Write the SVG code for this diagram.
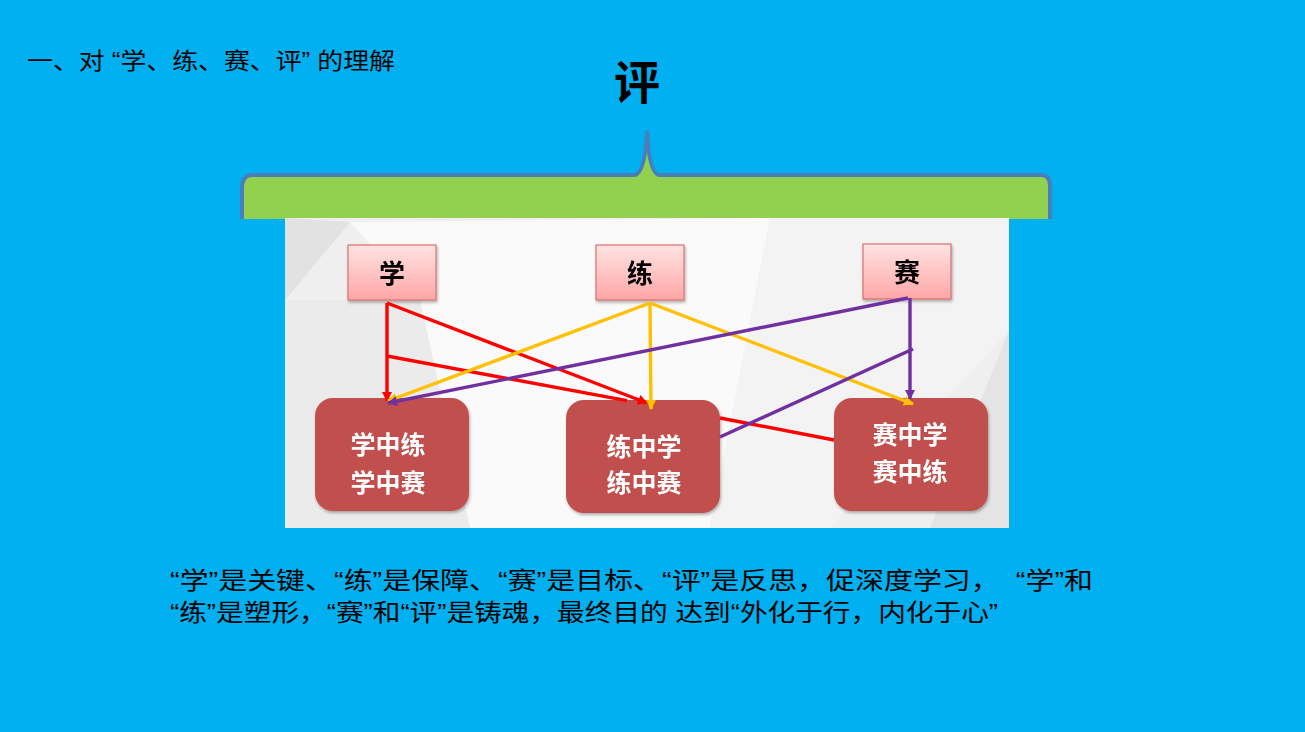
<svg xmlns="http://www.w3.org/2000/svg" width="1305" height="732" viewBox="0 0 1305 732">
<defs>
<style>
.cjk{font-family:"Liberation Sans","Noto Sans CJK SC",sans-serif;}
.title{font-size:23px;fill:#000;}
.body{font-size:24px;fill:#000;}
.top{font-size:26px;font-weight:bold;fill:#000;text-anchor:middle;}
.bot{font-size:25px;font-weight:bold;fill:#fff;text-anchor:middle;}
.pink{fill:url(#pinkGrad);stroke:#D9716F;stroke-width:1.2;}
.red-box{fill:#C0504D;}
.ln{fill:none;stroke-width:3.4;}
.r{stroke:#FF0000;}
.y{stroke:#FFC000;}
.p{stroke:#7030A0;}
</style>
<linearGradient id="pinkGrad" x1="0" y1="0" x2="0" y2="1">
<stop offset="0" stop-color="#FFE3E3"/>
<stop offset="1" stop-color="#FFA6A6"/>
</linearGradient>
<filter id="sh" x="-10%" y="-10%" width="130%" height="140%">
<feDropShadow dx="1" dy="2" stdDeviation="1.5" flood-color="#000" flood-opacity="0.3"/>
</filter>
<marker id="ar" viewBox="0 0 10 10" refX="9" refY="5" markerWidth="12" markerHeight="10" markerUnits="userSpaceOnUse" orient="auto"><path d="M0,0 L10,5 L0,10 z" fill="#FF0000"/></marker>
<marker id="ay" viewBox="0 0 10 10" refX="9" refY="5" markerWidth="12" markerHeight="10" markerUnits="userSpaceOnUse" orient="auto"><path d="M0,0 L10,5 L0,10 z" fill="#FFC000"/></marker>
<marker id="ap" viewBox="0 0 10 10" refX="9" refY="5" markerWidth="12" markerHeight="10" markerUnits="userSpaceOnUse" orient="auto"><path d="M0,0 L10,5 L0,10 z" fill="#7030A0"/></marker>
</defs>

<rect x="0" y="0" width="1305" height="732" fill="#00B0F0"/>

<text class="cjk title" x="27" y="69" textLength="368" lengthAdjust="spacingAndGlyphs" xml:space="preserve">一、对 “学、练、赛、评” 的理解</text>

<g id="brace">
<text class="cjk" x="637" y="99" font-size="46" font-weight="bold" text-anchor="middle" fill="#000">评</text>
<path d="M242,219 L242,186 Q243,175 252,175 L635,175 Q645,173 647,131 Q649,173 659,175 L1041,175 Q1050,175 1050,186 L1050,219 Z" fill="#92D050"/>
<path d="M242,219 L242,186 Q243,175 252,175 L635,175 Q645,173 647,131 Q649,173 659,175 L1041,175 Q1050,175 1050,186 L1050,219" fill="none" stroke="#4A7EBB" stroke-width="4"/>
</g>

<g id="panel">
<rect x="285" y="218" width="724" height="310" fill="#EFEFEF"/>
<polygon points="285,218 350,222 285,300" fill="#E2E2E2"/>
<polygon points="350,222 770,218 710,528 470,528 420,300" fill="#FAFAFA"/>
<polygon points="770,218 1009,218 1009,330 830,528 710,528" fill="#F3F3F3"/>
<polygon points="1009,330 1009,528 930,528" fill="#E4E4E4"/>
<polygon points="285,300 420,300 470,528 285,528" fill="#EBEBEB"/>
</g>

<g id="n-xue" filter="url(#sh)">
<rect class="pink" x="348" y="245" width="88" height="55"/>
<text class="cjk top" x="392" y="283">学</text>
</g>
<g id="n-lian" filter="url(#sh)">
<rect class="pink" x="596" y="245" width="88" height="55"/>
<text class="cjk top" x="640" y="283">练</text>
</g>
<g id="n-sai" filter="url(#sh)">
<rect class="pink" x="863" y="244" width="88" height="55"/>
<text class="cjk top" x="907" y="282">赛</text>
</g>

<g id="b-xue" filter="url(#sh)">
<rect class="red-box" x="315" y="398" width="154" height="113" rx="18"/>
<text class="cjk bot" x="388" y="454">学中练</text>
<text class="cjk bot" x="388" y="492">学中赛</text>
</g>
<g id="b-lian" filter="url(#sh)">
<rect class="red-box" x="566" y="400" width="154" height="113" rx="18"/>
<text class="cjk bot" x="644" y="456">练中学</text>
<text class="cjk bot" x="644" y="492">练中赛</text>
</g>
<g id="b-sai" filter="url(#sh)">
<rect class="red-box" x="834" y="398" width="154" height="113" rx="18"/>
<text class="cjk bot" x="910" y="444">赛中学</text>
<text class="cjk bot" x="910" y="481">赛中练</text>
</g>

<g id="connectors">
<line class="ln r" x1="387" y1="303" x2="387" y2="401" marker-end="url(#ar)"/>
<line class="ln r" x1="387" y1="303" x2="647" y2="403" marker-end="url(#ar)"/>
<line class="ln r" x1="387" y1="356" x2="627" y2="400.7"/>
<line class="ln r" x1="720" y1="418" x2="834" y2="440"/>
<line class="ln y" x1="650" y1="303" x2="388" y2="401" marker-end="url(#ay)"/>
<line class="ln y" x1="650" y1="303" x2="651" y2="409" marker-end="url(#ay)"/>
<line class="ln y" x1="650" y1="303" x2="913" y2="404" marker-end="url(#ay)"/>
<line class="ln p" x1="908" y1="298" x2="388" y2="403" marker-end="url(#ap)"/>
<line class="ln p" x1="910" y1="298" x2="910" y2="399" stroke-width="2.4" marker-end="url(#ap)"/>
<line class="ln p" x1="913" y1="349" x2="720" y2="437"/>
</g>

<g id="caption">
<text class="cjk body" x="170" y="589" textLength="923" lengthAdjust="spacingAndGlyphs" xml:space="preserve">“学”是关键、“练”是保障、“赛”是目标、“评”是反思，促深度学习，  “学”和</text>
<text class="cjk body" x="170" y="621" textLength="828" lengthAdjust="spacingAndGlyphs" xml:space="preserve">“练”是塑形，“赛”和“评”是铸魂，最终目的 达到“外化于行，内化于心”</text>
</g>
</svg>
